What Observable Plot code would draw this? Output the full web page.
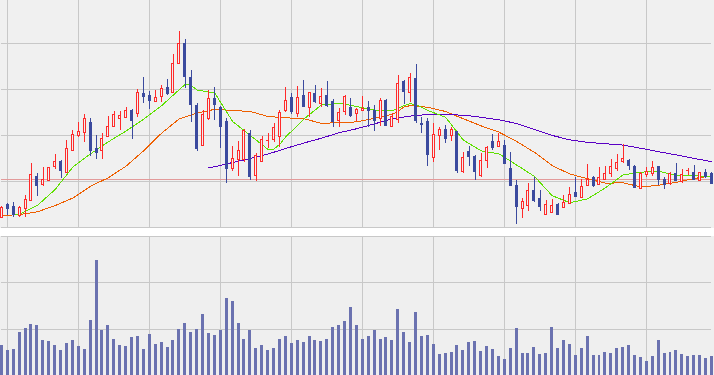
<!DOCTYPE html>
<html><head><meta charset="utf-8">
<script src="https://cdn.jsdelivr.net/npm/d3@7"></script>
<script src="https://cdn.jsdelivr.net/npm/@observablehq/plot@0.6"></script>
<style>
html,body{margin:0;padding:0;background:#fff;}
#chart{width:714px;height:375px;overflow:hidden;}
#chart svg{display:block;}
.gap{height:8px;background:#fff;}
</style>
</head><body><div id="chart"></div>
<script>
// Daily OHLC (index 0..120)
const open = [1010,1023.3,1021.3,1012.3,1018.6,1026.6,1051.3,1042.6,1046.6,1060.6,
1066,1054.6,1077,1091.6,1095,1105.3,1079,1077.3,1090.6,1101.3,
1108.6,1110,1116.6,1114,1134,1132,1126,1130.6,1140,1134.6,
1164,1184,1150,1122.3,1081.6,1108.6,1129,1120,1106.3,1058.6,
1068,1068,1094,1052,1065.6,1086.6,1088,1090.6,1116.6,1130,
1114,1132.3,1120,1134,1124,1132.3,1126.3,1106.6,1115.6,1120,
1114,1116.6,1120,1117.3,1109,1127.3,1101.3,1108,1146.3,1134.6,
1149,1104,1106.3,1070,1091.6,1098,1091.6,1095.6,1055.6,1076.3,
1070.6,1052.3,1066.6,1086.3,1080.6,1082.3,1059,1042.3,1018.6,1021.6,
1037.3,1029,1013,1014.6,1023.3,1019.6,1024,1034.6,1030,1041.6,
1050,1043,1048,1054,1059,1065.6,1067.3,1061.3,1039,1053,
1054,1060.6,1048,1044,1054,1046,1056.6,1055,1047.3,1055,
1054];
const close = [1020,1018.6,1013.3,1020,1028,1053.3,1041.6,1048,1060,1066,
1056.6,1079,1093,1096,1109,1076.6,1074.6,1089,1100.6,1113,
1112,1117.3,1106.6,1135,1131.3,1126.6,1130,1139,1134,1164,
1184,1150.6,1123,1078.6,1113,1129,1123,1101.3,1058.6,1069,
1077.3,1097.3,1050.6,1072,1088,1087.3,1100,1114.6,1127.3,1115.6,
1130,1120.6,1134.6,1125.6,1130.6,1122.3,1105.6,1115,1130.6,1111.6,
1118,1119.3,1116.6,1106.6,1127.3,1102.3,1111.3,1144,1135.6,1150,
1107.3,1103.3,1073.3,1093,1098,1089,1098,1056.6,1070,1071.3,
1055.6,1067.3,1080,1079.6,1086.3,1064,1042.3,1020.6,1025.6,1037.3,
1027.3,1020.6,1023.3,1022.3,1013.3,1025,1033.3,1030.6,1041.3,1048,
1041.6,1050,1054,1061.3,1065,1069,1061.6,1040,1054,1055.6,
1060,1048,1043.3,1054,1047.3,1053.3,1057.3,1048,1055,1051.3,
1044];
const high = [1021.3,1024.6,1025.3,1021.3,1032.3,1064,1054,1060.6,1060.6,1073.3,
1067.3,1087.3,1097.3,1105.3,1113.3,1109,1092.3,1094,1111.3,1116.3,
1116.3,1120,1118,1138.3,1150,1136.6,1137.3,1142.3,1148,1173.3,
1196,1188,1157.3,1124.6,1117.3,1137.3,1140,1121.3,1109,1081.3,
1086.6,1098,1097.3,1074.6,1091.3,1094,1104,1117.3,1140,1134,
1141.3,1147.3,1135.6,1142,1139,1146.3,1128,1119,1132,1129,
1119,1131.3,1126.3,1122.3,1129,1128.3,1114.6,1152.3,1147.3,1154.6,
1163.3,1110,1109,1104,1100.6,1102.3,1100,1096.6,1075,1081.3,
1072,1074,1081.3,1093.3,1094,1087.3,1075,1047.3,1029,1044,
1050.6,1037.3,1027.3,1028,1024.6,1032.3,1040,1050.6,1048.6,1063.3,
1051.3,1060.6,1061.3,1068,1073.3,1083.3,1068,1062.3,1055.6,1060.6,
1066.3,1061.3,1050,1055.3,1064,1058.3,1059.6,1062.3,1055.6,1058.3,
1055.3];
const low = [1010,1012.3,1010.6,1010.6,1010,1026.6,1031.6,1041.6,1046.6,1058.6,
1049.3,1054.6,1077,1090.6,1085,1071.3,1068.6,1068.6,1090.6,1100,
1097.3,1109,1088,1110.6,1124.6,1118,1126,1125.3,1132,1134.6,
1164,1139,1105.6,1076.6,1081.6,1107.3,1107.3,1079.3,1044,1056.6,
1051.6,1065.6,1047.3,1046.6,1065.6,1079,1085.6,1080.6,1115.6,1113.3,
1110,1120.6,1110.6,1124,1120.6,1120,1100.6,1100,1112.3,1110.6,
1106.6,1116.6,1100.6,1096.6,1101.6,1102.3,1100,1104.6,1123.3,1125.6,
1104.6,1094.6,1061.6,1065.6,1077.3,1084,1086.6,1054.6,1054.6,1061.6,
1047.3,1050,1059,1077.3,1080,1063.3,1042.3,1003.3,1009,1016.6,
1025.6,1016.6,1012.3,1014,1013.3,1019,1023.3,1030,1030,1041.6,
1040.8,1042.3,1047.3,1050.6,1056.6,1064,1057.3,1039.6,1038.3,1050.6,
1051.3,1042.3,1038.3,1042,1046.6,1044.3,1052.3,1048,1046,1049.6,
1044];
const volume = [639,531,553,920,1006,1093,1071,747,726,639,
531,683,747,618,553,1179,2475,963,1071,769,
639,618,812,834,553,877,661,704,596,747,
985,1114,920,985,1309,898,855,963,1654,1589,
1114,769,963,575,639,531,575,769,834,683,
747,704,834,747,726,769,1028,1071,1158,1460,
1071,769,834,963,769,812,747,1417,920,704,
1352,834,855,661,445,467,488,639,531,704,
726,510,618,553,402,337,575,1006,467,467,
596,445,467,1028,575,747,661,424,575,834,
424,424,488,467,575,596,639,424,380,294,
402,747,467,488,531,445,402,424,424,359,
402];

// Moving averages (read at sampled day indices)
const maShortIdx = [2,3,6,9,12,15,18,21,24,27,30,31,32,33,36,39,42,45,46,47,48,51,54,57,60,63,66,68,69,70,72,75,78,81,84,87,90,93,96,99,102,105,108,111,114,117,120];
const maShort = [1013.3,1013.8,1022.3,1038.3,1060.8,1074,1086,1096.8,1108.8,1122.1,1138.3,1143.5,1142.3,1137.8,1134.6,1106.3,1092.3,1078.3,1078.8,1083.8,1091,1108.6,1122.8,1124.6,1121.3,1117.7,1117.2,1122.3,1124,1123.3,1117.3,1110.5,1087.7,1076.9,1074,1062.8,1051.5,1032.1,1025.1,1029,1039.9,1053,1055.6,1056.7,1052.1,1052.3,1050.7];
const maMidIdx = [0,3,6,9,12,15,18,21,24,27,30,33,36,39,42,45,48,51,54,57,60,63,66,67,68,69,72,75,78,81,84,87,90,93,96,99,102,105,108,111,114,117,120];
const maMid = [1012.3,1013.2,1016,1022.2,1029.8,1041.6,1050.1,1061.7,1077.2,1094.7,1109,1114.8,1118.5,1117.3,1116.3,1111.3,1110,1109.2,1104.4,1105.2,1105.9,1109.6,1113.5,1116.8,1121,1122.1,1120.5,1116.3,1109,1101.9,1095.7,1086.3,1075.5,1062.2,1053.8,1049,1044.6,1045,1040.8,1042.5,1045.5,1049.3,1051.9];
const maLongIdx = [35,36,39,42,45,48,51,54,57,60,63,66,69,72,75,78,81,84,87,90,93,96,99,102,105,108,111,114,117,120];
const maLong = [1060.1,1061.1,1065.3,1069.3,1073.8,1079.4,1084.7,1089.6,1095.1,1099.1,1104,1109,1111.7,1113.3,1113,1112.7,1110.5,1108,1104.3,1098.2,1092.4,1087.9,1085.4,1084.1,1082.7,1079.5,1076.1,1072.9,1069.4,1066.1];

const refPrice = [1048];
const priceTicks = [1000,1046,1092,1138,1184];
const volumeTicks = [1000,2000,3000];
const dayTicks = [1,13,25,37,49,61,73,85,97,109];

const candles = open.map((o, i) => ({i, open: o, close: close[i], high: high[i], low: low[i], volume: volume[i]}));
const upDays = candles.filter(d => d.close >= d.open);
const downDays = candles.filter(d => d.close < d.open);
const toLine = (idx, vals) => idx.map((i, k) => ({i, v: vals[k]}));

const RED = "#ff2a2a", BLUE = "#3b4a9e", BG = "#f0f0f0", GRID = "#c8c8c8";
const hw = 0.17;
const crisp = {shapeRendering: "crispEdges"};

const xOpt = {domain: [0, 120], axis: null};
const common = {width: 714, marginTop: 0, marginBottom: 0, marginLeft: 1.38, marginRight: 2.6};

const pricePlot = Plot.plot({
  ...common,
  height: 228,
  x: xOpt,
  y: {domain: [999.3, 1227.3], axis: null},
  style: {background: BG},
  marks: [
    Plot.gridX(dayTicks, {stroke: GRID, strokeOpacity: 1, ...crisp}),
    Plot.gridY(priceTicks, {stroke: GRID, strokeOpacity: 1, ...crisp}),
    Plot.ruleY(refPrice, {stroke: "#e29a9a", strokeWidth: 1, ...crisp}),
    Plot.line(toLine(maMidIdx, maMid), {x: "i", y: "v", stroke: "#ee5f00", strokeWidth: 1, ...crisp}),
    Plot.line(toLine(maLongIdx, maLong), {x: "i", y: "v", stroke: "#5a00c4", strokeWidth: 1, ...crisp}),
    Plot.line(toLine(maShortIdx, maShort), {x: "i", y: "v", stroke: "#5fe000", strokeWidth: 1, ...crisp}),
    Plot.ruleX(downDays, {x: "i", y1: "low", y2: "high", stroke: BLUE, strokeWidth: 1, ...crisp}),
    Plot.ruleX(upDays, {x: "i", y1: "low", y2: "high", stroke: RED, strokeWidth: 1, ...crisp}),
    Plot.rect(downDays, {x1: d => d.i - hw, x2: d => d.i + hw, y1: "open", y2: "close", fill: BLUE, stroke: BLUE, strokeWidth: 1, ...crisp}),
    Plot.rect(upDays, {x1: d => d.i - hw, x2: d => d.i + hw, y1: "open", y2: "close", fill: BG, stroke: RED, strokeWidth: 1, ...crisp})
  ]
});

const volumePlot = Plot.plot({
  ...common,
  height: 139,
  x: xOpt,
  y: {domain: [0, 3000], axis: null},
  style: {background: "#efefef"},
  marks: [
    Plot.gridX(dayTicks, {stroke: GRID, strokeOpacity: 1, ...crisp}),
    Plot.gridY(volumeTicks, {stroke: GRID, strokeOpacity: 1, ...crisp}),
    Plot.rect(candles, {x1: d => d.i - 0.25, x2: d => d.i + 0.25, y1: 0, y2: "volume", fill: "#6b72b0", ...crisp})
  ]
});

const chart = document.getElementById("chart");
chart.appendChild(pricePlot);
const gap = document.createElement("div");
gap.className = "gap";
chart.appendChild(gap);
chart.appendChild(volumePlot);
</script>
</body></html>
